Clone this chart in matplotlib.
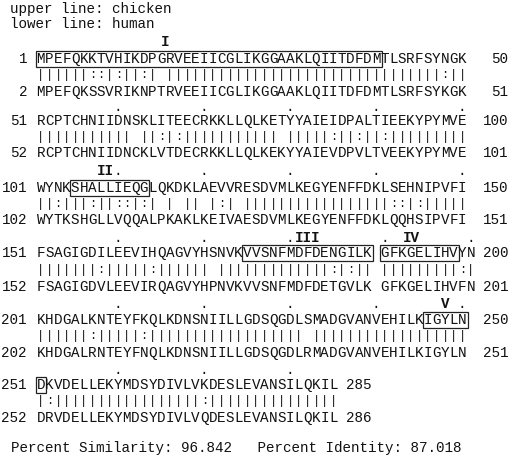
import matplotlib
matplotlib.use("Agg")
import matplotlib.pyplot as plt
from matplotlib.patches import Rectangle

# ---------------- data ----------------
header_upper = "upper line: chicken"
header_lower = "lower line: human"

chicken_start = [1, 51, 101, 151, 201, 251]
chicken_end = [50, 100, 150, 200, 250, 285]
human_start = [2, 52, 102, 152, 202, 252]
human_end = [51, 101, 151, 201, 251, 286]

chicken_seq = [
    "MPEFQKKTVHIKDPGRVEEIICGLIKGGAAKLQIITDFDMTLSRFSYNGK",
    "RCPTCHNIIDNSKLITEECRKKLLQLKETYYAIEIDPALTIEEKYPYMVE",
    "WYNKSHALLIEQGLQKDKLAEVVRESDVMLKEGYENFFDKLSEHNIPVFI",
    "FSAGIGDILEEVIHQAGVYHSNVKVVSNFMDFDENGILK GFKGELIHVYN",
    "KHDGALKNTEYFKQLKDNSNIILLGDSQGDLSMADGVANVEHILKIGYLN",
    "DKVDELLEKYMDSYDIVLVKDESLEVANSILQKIL",
]
human_seq = [
    "MPEFQKSSVRIKNPTRVEEIICGLIKGGAAKLQIITDFDMTLSRFSYKGK",
    "RCPTCHNIIDNCKLVTDECRKKLLQLKEKYYAIEVDPVLTVEEKYPYMVE",
    "WYTKSHGLLVQQALPKAKLKEIVAESDVMLKEGYENFFDKLQQHSIPVFI",
    "FSAGIGDVLEEVIRQAGVYHPNVKVVSNFMDFDETGVLK GFKGELIHVFN",
    "KHDGALRNTEYFNQLKDNSNIILLGDSQGDLRMADGVANVEHILKIGYLN",
    "DRVDELLEKYMDSYDIVLVQDESLEVANSILQKIL",
]
match_lines = [
    "||||||::|:" "||:| |||||" "||||||||||" "||||||||||" "|||||||:||",
    "||||||||||" "| ||:|:|||" "|||||||| |" "||||:||:||" ":|||||||||",
    "||:|||:||:" ":|:| | || " "|:| ||||||" "||||||||||" "|::|:|||||",
    "|||||||:||" "|||:||||||" " |||||||||" "||||:|:|| " "|||||||||:|",
    "||||||:|||" "||:|||||||" "||||||||||" "| ||||||||" "||||||||||",
    "|:||||||||" "|||||||||:" "||||||||||" "|||||",
]
# boxed motifs: (block, first column, last column)
motif_boxes = [(0, 0, 39), (2, 4, 12), (3, 24, 38), (3, 40, 48), (4, 45, 49), (5, 0, 0)]
# motif names: (block, name)
motif_names = [(0, "I"), (2, "II"), (3, "III"), (3, "IV"), (4, "V")]
similarity_text = "Percent Similarity: 96.842   Percent Identity: 87.018"

# ---------------- layout ----------------
W, H = 520, 459
X0, P = 36.5, 8.6                     # left edge of column 0, column pitch (px)
y_upper = [59, 121, 188, 253, 320, 385]
y_match = [75, 137, 204, 270, 336, 401]
y_lower = [92, 153, 220, 287, 353, 418]
y_label = [42, 107, 171, 238, 304, 370]
name_cols = [15.0, 8.0, 31.5, 43.6, 47.5]   # centre of each motif name, in columns
FONT = "Liberation Mono"
FS = 10.3
FS_MATCH = 8.6
COL = "#111111"

fig = plt.figure(figsize=(W / 100, H / 100), dpi=100)
ax = fig.add_axes([0, 0, 1, 1])
ax.set_xlim(0, W)
ax.set_ylim(H, 0)
ax.axis("off")


def cx(c):
    return X0 + P * (c + 0.5)


def put_row(seq, y, fs=FS):
    for c, ch in enumerate(seq):
        if ch != " ":
            ax.text(cx(c), y, ch, ha="center", va="center", fontsize=fs,
                    family=FONT, color=COL)


ax.text(10, 9, header_upper, ha="left", va="center", fontsize=FS, family=FONT, color=COL)
ax.text(10, 24, header_lower, ha="left", va="center", fontsize=FS, family=FONT, color=COL)

for b in range(len(chicken_seq)):
    put_row(chicken_seq[b], y_upper[b])
    put_row(match_lines[b], y_match[b], FS_MATCH)
    put_row(human_seq[b], y_lower[b])
    last = b == len(chicken_seq) - 1
    ax.text(27, y_upper[b], str(chicken_start[b]), ha="right", va="center",
            fontsize=FS, family=FONT, color=COL)
    ax.text(27, y_lower[b], str(human_start[b]), ha="right", va="center",
            fontsize=FS, family=FONT, color=COL)
    if last:
        xe = X0 + P * (len(chicken_seq[b]) + 1)
        ax.text(xe, y_upper[b], str(chicken_end[b]), ha="left", va="center",
                fontsize=FS, family=FONT, color=COL)
        ax.text(xe, y_lower[b], str(human_end[b]), ha="left", va="center",
                fontsize=FS, family=FONT, color=COL)
    else:
        ax.text(508, y_upper[b], str(chicken_end[b]), ha="right", va="center",
                fontsize=FS, family=FONT, color=COL)
        ax.text(508, y_lower[b], str(human_end[b]), ha="right", va="center",
                fontsize=FS, family=FONT, color=COL)
    # ten-residue dots (not on first block)
    if b > 0:
        n = 0
        for c, ch in enumerate(chicken_seq[b]):
            if ch == " ":
                continue
            n += 1
            if n % 10 == 0:
                ax.text(cx(c), y_label[b], ".", ha="center", va="center",
                        fontsize=FS, family=FONT, color=COL)

for (b, c0, c1) in motif_boxes:
    x_left = X0 + P * c0 - 1
    x_right = X0 + P * (c1 + 1) + 1
    ax.add_patch(Rectangle((x_left, y_upper[b] - 8), x_right - x_left, 16,
                           fill=False, edgecolor="#222222", linewidth=0.9))

for (b, name), u in zip(motif_names, name_cols):
    ax.text(X0 + P * u, y_label[b], name, ha="center", va="center",
            fontsize=FS, family=FONT, fontweight="bold", color=COL)

ax.text(11, 448, similarity_text, ha="left", va="center", fontsize=FS, family=FONT, color=COL)

fig.savefig("out.png", dpi=100, facecolor="white")
